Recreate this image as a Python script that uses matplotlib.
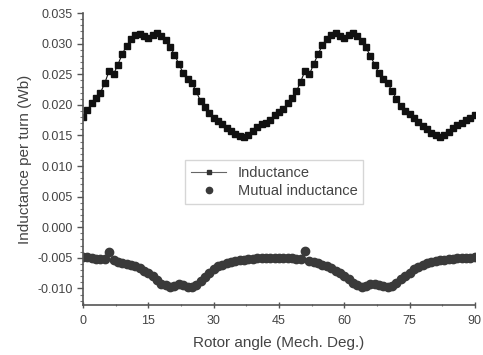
import matplotlib
matplotlib.use("Agg")
import matplotlib.pyplot as plt
from matplotlib.lines import Line2D
from matplotlib.ticker import MultipleLocator, FormatStrFormatter

plt.rcParams['font.family'] = ['Liberation Sans', 'DejaVu Sans']

# rotor position, one sample per mechanical degree
angle = list(range(0, 91))

inductance = [
    0.0180, 0.0192, 0.0203, 0.0211, 0.0220, 0.0236, 0.0256, 0.0250, 0.0266, 0.0283,
    0.0297, 0.0307, 0.0314, 0.0316, 0.0313, 0.0310, 0.0314, 0.0317, 0.0313, 0.0306,
    0.0295, 0.0282, 0.0267, 0.0252, 0.0243, 0.0236, 0.0222, 0.0206, 0.0196, 0.0186,
    0.0179, 0.0173, 0.0168, 0.0163, 0.0157, 0.0152, 0.0149, 0.0147, 0.0151, 0.0157,
    0.0164, 0.0168, 0.0171, 0.0176, 0.0183, 0.0188, 0.0193, 0.0203, 0.0212, 0.0222,
    0.0238, 0.0256, 0.0250, 0.0267, 0.0283, 0.0298, 0.0307, 0.0314, 0.0317, 0.0313,
    0.0310, 0.0314, 0.0317, 0.0313, 0.0305, 0.0294, 0.0280, 0.0266, 0.0252, 0.0243,
    0.0235, 0.0223, 0.0210, 0.0198, 0.0190, 0.0185, 0.0178, 0.0172, 0.0166, 0.0160,
    0.0154, 0.0150, 0.0147, 0.0150, 0.0156, 0.0162, 0.0167, 0.0171, 0.0175, 0.0179,
    0.0183,
]

mutual = [
    -0.0049, -0.0049, -0.0051, -0.0052, -0.0052, -0.0052, -0.0040, -0.0054, -0.0056, -0.0058,
    -0.0060, -0.0062, -0.0064, -0.0067, -0.0071, -0.0075, -0.0080, -0.0086, -0.0092, -0.0095,
    -0.0097, -0.0096, -0.0093, -0.0094, -0.0097, -0.0097, -0.0095, -0.0088, -0.0081, -0.0074,
    -0.0068, -0.0064, -0.0061, -0.0059, -0.0057, -0.0055, -0.0054, -0.0053, -0.0052, -0.0052,
    -0.0051, -0.0051, -0.0050, -0.0050, -0.0050, -0.0050, -0.0050, -0.0051, -0.0051, -0.0052,
    -0.0052, -0.0039, -0.0055, -0.0057, -0.0059, -0.0061, -0.0064, -0.0067, -0.0071, -0.0075,
    -0.0080, -0.0085, -0.0091, -0.0095, -0.0097, -0.0096, -0.0093, -0.0092, -0.0094, -0.0096,
    -0.0097, -0.0096, -0.0091, -0.0085, -0.0080, -0.0074, -0.0069, -0.0065, -0.0062, -0.0059,
    -0.0057, -0.0055, -0.0054, -0.0053, -0.0052, -0.0052, -0.0051, -0.0051, -0.0050, -0.0050,
    -0.0049,
]

x_ticks = [0, 15, 30, 45, 60, 75, 90]
y_ticks = [-0.010, -0.005, 0.000, 0.005, 0.010, 0.015, 0.020, 0.025, 0.030, 0.035]

fig = plt.figure(figsize=(4.83, 3.55), dpi=100)
ax = fig.add_axes([0.172, 0.141, 0.811, 0.822])

ax.plot(angle, inductance, color='#111111', lw=0.8, marker='s', ms=4.0,
        mec='#111111', mfc='#111111')
ax.plot(angle, mutual, ls='none', color='#3a3a3a', marker='o', ms=6.0,
        mec='#3a3a3a')

ax.set_xlim(0, 90)
ax.set_ylim(-0.0127, 0.035)
ax.set_xticks(x_ticks)
ax.set_yticks(y_ticks)
ax.xaxis.set_minor_locator(MultipleLocator(7.5))
ax.yaxis.set_minor_locator(MultipleLocator(0.001))
ax.yaxis.set_major_formatter(FormatStrFormatter('%.3f'))

for side in ('top', 'right'):
    ax.spines[side].set_visible(False)
for side in ('left', 'bottom'):
    ax.spines[side].set_color('#555555')
    ax.spines[side].set_linewidth(1.2)

ax.tick_params(axis='both', which='major', labelsize=9, labelcolor='#444444',
               color='#555555', length=4, width=1)
ax.tick_params(axis='x', which='both', direction='inout', pad=5)
ax.tick_params(axis='both', which='minor', color='#777777', length=2, width=0.8)

ax.set_xlabel('Rotor angle (Mech. Deg.)', fontsize=11, color='#444444', labelpad=7)
ax.set_ylabel('Inductance per turn (Wb)', fontsize=11, color='#444444', labelpad=4)

# legend keys drawn smaller than the plotted markers
handles = [
    Line2D([], [], color='#666666', lw=0.8, marker='s', ms=3.5,
           mfc='#333333', mec='#333333'),
    Line2D([], [], ls='none', marker='o', ms=4.5, mfc='#3a3a3a', mec='#3a3a3a'),
]
leg = ax.legend(handles, ['Inductance', 'Mutual inductance'],
                loc='center', bbox_to_anchor=(0.488, 0.421), fontsize=10.5,
                frameon=True, fancybox=False, edgecolor='#cccccc',
                handlelength=2.4, borderpad=0.4, labelspacing=0.25)
for t in leg.get_texts():
    t.set_color('#444444')

fig.savefig('out.png', dpi=100)
